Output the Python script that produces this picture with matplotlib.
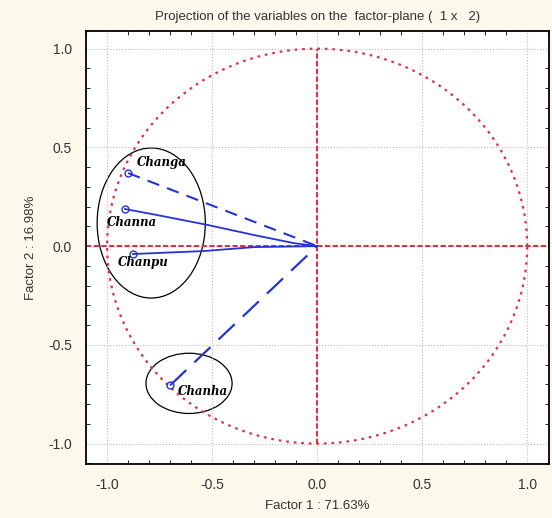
import matplotlib
matplotlib.use('Agg')
import matplotlib.pyplot as plt
import numpy as np
from matplotlib.patches import Ellipse
from matplotlib.ticker import MultipleLocator

plt.rcParams['font.family'] = ['Liberation Sans', 'DejaVu Sans']

# variable names and their coordinates on factor 1 / factor 2
names = ['Changa', 'Channa', 'Chanpu', 'Chanha']
f1 = [-0.90, -0.915, -0.877, -0.70]
f2 = [0.37, 0.188, -0.04, -0.705]

# traced paths from the origin for the solid lines (as drawn in the original)
channa_x = [-0.915, -0.76, -0.52, -0.30, -0.11, 0.0]
channa_y = [0.188, 0.157, 0.107, 0.056, 0.015, 0.0]
chanpu_x = [-0.877, -0.54, -0.30, 0.0]
chanpu_y = [-0.04, -0.025, -0.005, 0.0]

bg = '#fcf8ec'
red = '#e0304a'
blue = '#2434d4'

fig = plt.figure(figsize=(5.52, 5.18), dpi=100, facecolor=bg)
ax = fig.add_axes([0.156, 0.104, 0.839, 0.836])
ax.set_facecolor('white')

# ======= unit circle and axes through origin ======= #
th = np.linspace(0, 2 * np.pi, 400)
ax.plot(np.cos(th), np.sin(th), color=red, lw=1.6, ls=(0, (1.2, 2.2)))
ax.axhline(0, color=red, lw=1.5, ls=(0, (2.5, 1.2)))
ax.plot([0, 0], [-1, 1], color=red, lw=1.5, ls=(0, (2.5, 1.2)))

# ======= variable vectors ======= #
ax.plot([f1[0], 0], [f2[0], 0], color=blue, lw=1.5, ls=(0, (6, 4)))
ax.plot(channa_x, channa_y, color=blue, lw=1.3)
ax.plot(chanpu_x, chanpu_y, color=blue, lw=1.3)
ax.plot([f1[3], 0], [f2[3], 0], color=blue, lw=1.6, ls=(0, (10, 5)))
ax.plot(f1, f2, 'o', mfc='none', mec=blue, ms=5, mew=1)

txt_pos = [(-0.86, 0.425), (-1.0, 0.12), (-0.95, -0.085), (-0.665, -0.735)]
for n, (tx, ty) in zip(names, txt_pos):
    ax.text(tx, ty, n, fontsize=8.5, family='DejaVu Serif', style='italic',
            weight='bold', va='center', ha='left')

# groups
ax.add_patch(Ellipse((-0.79, 0.117), 0.515, 0.76, fill=False, ec='black', lw=0.9))
ax.add_patch(Ellipse((-0.61, -0.695), 0.41, 0.305, fill=False, ec='black', lw=0.9))

ax.set_xlim(-1.10, 1.105)
ax.set_ylim(-1.104, 1.089)
ax.xaxis.set_major_locator(MultipleLocator(0.5))
ax.yaxis.set_major_locator(MultipleLocator(0.5))
ax.xaxis.set_minor_locator(MultipleLocator(0.1))
ax.yaxis.set_minor_locator(MultipleLocator(0.1))
ax.tick_params(which='both', direction='in', top=True, right=True,
               labelsize=10, labelcolor='#333333')
ax.tick_params(which='major', length=0, pad=10)
ax.tick_params(which='minor', length=3)
ax.grid(True, which='major', color='#bbbbbb', ls=':', lw=0.8)
for s in ax.spines.values():
    s.set_linewidth(1.3)

ax.xaxis.set_major_formatter(plt.FuncFormatter(lambda v, p: '%.1f' % v))
ax.yaxis.set_major_formatter(plt.FuncFormatter(lambda v, p: '%.1f' % v))

ax.set_xlabel('Factor 1 : 71.63%', fontsize=9.5, color='#333333', labelpad=6)
ax.set_ylabel('Factor 2 : 16.98%', fontsize=9.5, color='#333333', labelpad=8)
ax.set_title('Projection of the variables on the  factor-plane (  1 x   2)',
             fontsize=9.5, color='#333333', pad=8)

fig.savefig('out.png', dpi=100, facecolor=bg)
